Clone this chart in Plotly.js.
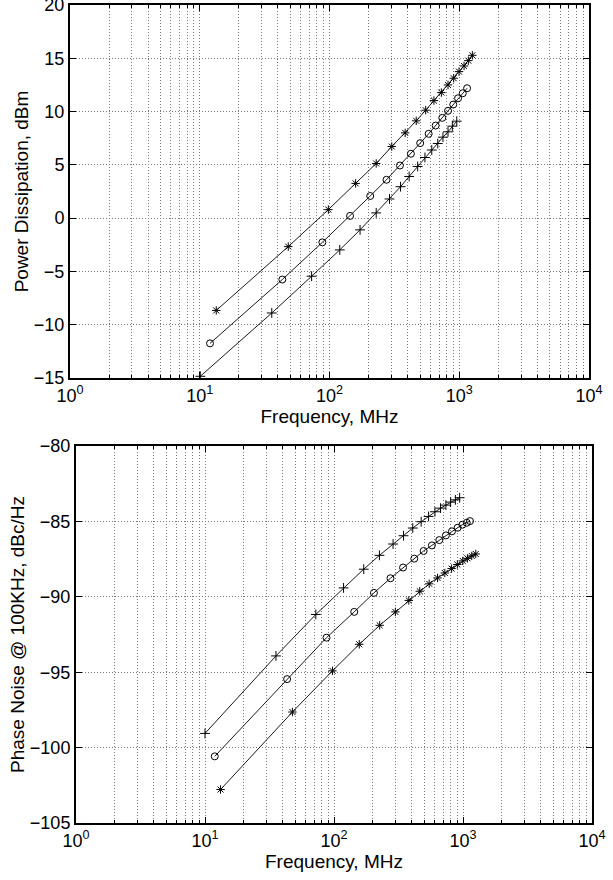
<!DOCTYPE html>
<html>
<head>
<meta charset="utf-8">
<script src="https://cdn.plot.ly/plotly-3.0.1.min.js"></script>
<style>html,body{margin:0;padding:0;background:#fff;}#chart{width:613px;height:880px;}</style>
</head>
<body>
<div id="chart"></div>
<script>
// ---- Data ----
// Top panel: Power Dissipation (dBm) vs Frequency (MHz)
const pdStarFreq = [13.4, 48.1, 98, 159, 229, 302, 383, 466, 551, 638, 728, 819, 906, 996, 1089, 1175, 1262];
const pdStarVal  = [-8.66, -2.67, 0.8, 3.26, 5.13, 6.72, 8.0, 9.13, 10.13, 11.03, 11.78, 12.5, 13.13, 13.75, 14.28, 14.78, 15.28];
const pdCircFreq = [12.0, 43.3, 88.1, 144, 206, 275, 349, 424, 500, 581, 658, 740, 819, 899, 979, 1064, 1149];
const pdCircVal  = [-11.75, -5.76, -2.27, 0.21, 2.08, 3.6, 4.94, 6.04, 7.04, 7.91, 8.69, 9.41, 10.07, 10.66, 11.25, 11.72, 12.19];
const pdPlusFreq = [10.1, 35.9, 72.8, 120, 172, 229, 290, 353, 411, 478, 544, 614, 683, 749, 819, 885, 957];
const pdPlusVal  = [-14.84, -8.9, -5.45, -2.98, -1.1, 0.49, 1.8, 2.95, 3.91, 4.85, 5.69, 6.39, 7.0, 7.6, 8.1, 8.63, 9.1];

// Bottom panel: Phase Noise @ 100KHz (dBc/Hz) vs Frequency (MHz)
const pnPlusFreq = [10, 35.5, 72.3, 118.6, 170, 225, 287, 346, 408, 474, 541, 606, 670, 737, 802, 873, 942];
const pnPlusVal  = [-99.06, -93.92, -91.17, -89.41, -88.17, -87.25, -86.5, -85.95, -85.44, -85.02, -84.67, -84.36, -84.12, -83.92, -83.72, -83.57, -83.43];
const pnCircFreq = [11.9, 43.3, 87.5, 143.5, 204, 274, 343, 419, 495, 574, 655, 737, 821, 909, 989, 1069, 1133];
const pnCircVal  = [-100.58, -95.46, -92.71, -91.0, -89.74, -88.77, -88.06, -87.47, -86.96, -86.59, -86.24, -85.93, -85.66, -85.42, -85.22, -85.09, -84.98];
const pnStarFreq = [13.2, 47.6, 97.3, 157, 226, 299, 380, 462, 547, 635, 723, 816, 904, 995, 1082, 1169, 1256];
const pnStarVal  = [-102.78, -97.64, -94.91, -93.15, -91.89, -91.0, -90.24, -89.63, -89.14, -88.75, -88.42, -88.13, -87.86, -87.62, -87.45, -87.29, -87.16];

// Tick labels
const xTickVals = [1, 10, 100, 1000, 10000];
const xTickText = ['10<sup>0</sup>', '10<sup>1</sup>', '10<sup>2</sup>', '10<sup>3</sup>', '10<sup>4</sup>'];
const yTopTicks = [-15, -10, -5, 0, 5, 10, 15, 20];
const yBotTicks = [-105, -100, -95, -90, -85, -80];

const xTitle = 'Frequency, MHz';
const yTopTitle = 'Power Dissipation, dBm';
const yBotTitle = 'Phase Noise @ 100KHz, dBc/Hz';

// ---- Styling ----
const FONT = 'Liberation Sans, Arial, Helvetica, sans-serif';
const gridCol = '#7a7a7a';
const gridDash = '1px,2px';

function series(x, y, sym, xa, ya) {
  return {
    x: x, y: y, xaxis: xa, yaxis: ya, type: 'scatter', mode: 'lines+markers',
    line: {color: '#000', width: 0.9},
    marker: {symbol: sym, size: 7, color: '#000', line: {color: '#000', width: 1}},
    showlegend: false, hoverinfo: 'x+y'
  };
}

const traces = [
  series(pdStarFreq, pdStarVal, 'asterisk-open', 'x', 'y'),
  series(pdCircFreq, pdCircVal, 'circle-open', 'x', 'y'),
  series(pdPlusFreq, pdPlusVal, 'cross-thin-open', 'x', 'y'),
  series(pnPlusFreq, pnPlusVal, 'cross-thin-open', 'x2', 'y2'),
  series(pnCircFreq, pnCircVal, 'circle-open', 'x2', 'y2'),
  series(pnStarFreq, pnStarVal, 'asterisk-open', 'x2', 'y2')
];

function xAxis(domain, anchor) {
  return {
    type: 'log', range: [0, 4], domain: domain, anchor: anchor,
    tickmode: 'array', tickvals: xTickVals, ticktext: xTickText,
    ticks: 'inside', ticklen: 6, tickwidth: 1, tickcolor: '#000',
    showline: true, linecolor: '#000', linewidth: 2, mirror: 'ticks',
    showgrid: true, gridcolor: gridCol, gridwidth: 1, griddash: gridDash,
    minor: {dtick: 'D1', ticks: 'inside', ticklen: 3, tickcolor: '#000', showgrid: true, gridcolor: gridCol, gridwidth: 1, griddash: gridDash},
    zeroline: false, ticklabeloverflow: 'allow',
    tickfont: {family: FONT, size: 18, color: '#000'},
    title: {text: xTitle, font: {family: FONT, size: 19, color: '#000'}, standoff: 4}
  };
}
function yAxis(domain, anchor, range, ticks, title) {
  return {
    range: range, domain: domain, anchor: anchor,
    tickmode: 'array', tickvals: ticks,
    ticks: 'inside', ticklen: 6, tickwidth: 1, tickcolor: '#000',
    showline: true, linecolor: '#000', linewidth: 2, mirror: 'ticks',
    showgrid: true, gridcolor: gridCol, gridwidth: 1, griddash: gridDash,
    zeroline: false, ticklabeloverflow: 'allow',
    tickfont: {family: FONT, size: 18, color: '#000'},
    title: {text: title, font: {family: FONT, size: 19, color: '#000'}, standoff: 0}
  };
}

const layout = {
  width: 613, height: 880,
  margin: {l: 0, r: 0, t: 0, b: 0},
  paper_bgcolor: '#fff', plot_bgcolor: '#fff',
  font: {family: FONT, color: '#000'},
  xaxis: xAxis([70/613, 589/613], 'y'),
  yaxis: yAxis([1 - 378/880, 1 - 5/880], 'x', [-15, 20], yTopTicks, yTopTitle),
  xaxis2: xAxis([76/613, 592/613], 'y2'),
  yaxis2: yAxis([1 - 823/880, 1 - 446/880], 'x2', [-105, -80], yBotTicks, yBotTitle)
};

Plotly.newPlot('chart', traces, layout, {displayModeBar: false, staticPlot: true});
</script>
</body>
</html>
